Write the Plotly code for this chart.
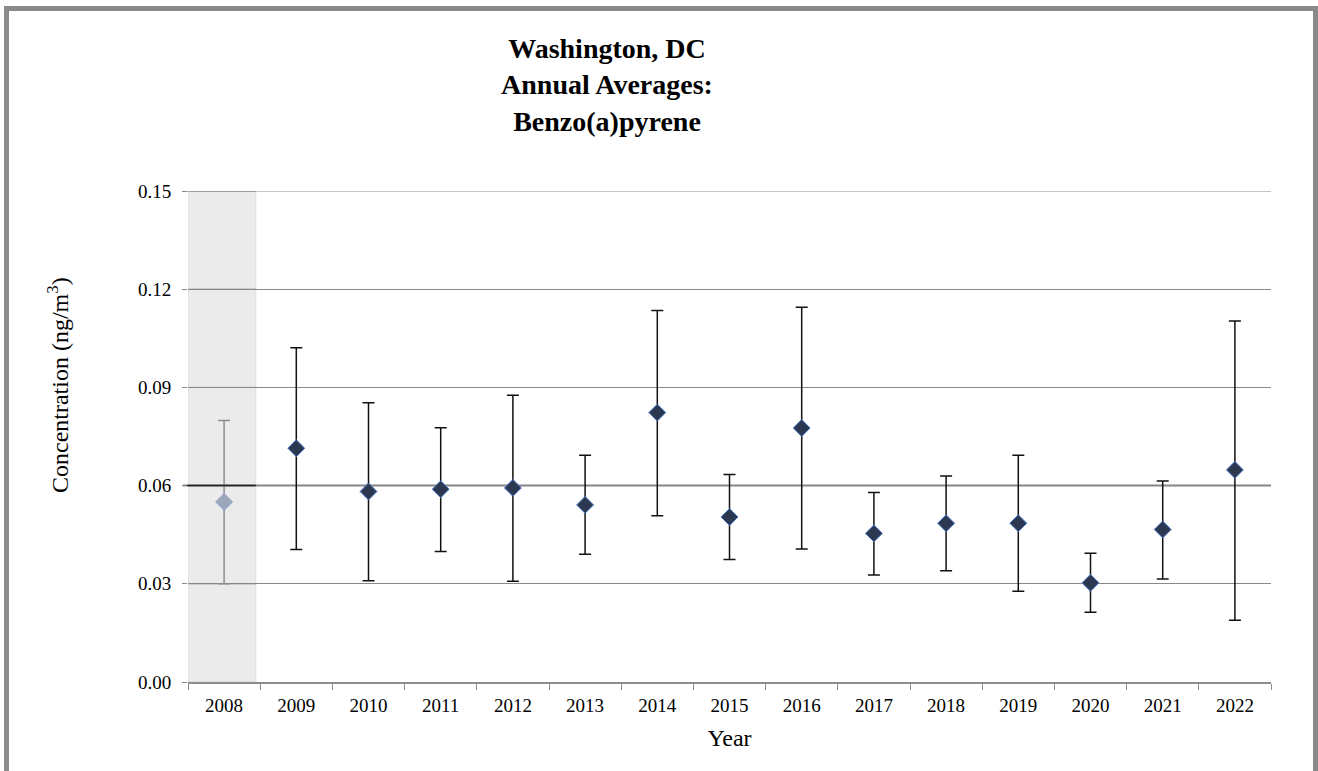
import plotly.graph_objects as go

years = ["2008", "2009", "2010", "2011", "2012", "2013", "2014", "2015",
         "2016", "2017", "2018", "2019", "2020", "2021", "2022"]
means = [0.0550, 0.0714, 0.0582, 0.0589, 0.0593, 0.0541, 0.0823, 0.0504,
         0.0776, 0.0454, 0.0485, 0.0485, 0.0303, 0.0466, 0.0648]
upper = [0.0799, 0.1021, 0.0853, 0.0777, 0.0876, 0.0693, 0.1135, 0.0634,
         0.1145, 0.0579, 0.0629, 0.0693, 0.0393, 0.0614, 0.1103]
lower = [0.0300, 0.0405, 0.0309, 0.0399, 0.0308, 0.0390, 0.0508, 0.0374,
         0.0406, 0.0327, 0.0340, 0.0277, 0.0213, 0.0315, 0.0189]
y_ticks = [0.00, 0.03, 0.06, 0.09, 0.12, 0.15]

FONT = "Liberation Serif"

err_up = [u - m for u, m in zip(upper, means)]
err_dn = [m - l for m, l in zip(means, lower)]

fig = go.Figure()

# 2008 (faded, shaded year)
fig.add_trace(go.Scatter(
    x=years[:1], y=means[:1], mode="markers",
    marker=dict(symbol="diamond", size=13, color="#a9b6c9",
                line=dict(color="#9db3dc", width=1)),
    error_y=dict(type="data", symmetric=False, array=err_up[:1],
                 arrayminus=err_dn[:1], color="#9a9a9a", thickness=1.5, width=6),
    showlegend=False, hoverinfo="skip"))

fig.add_trace(go.Scatter(
    x=years[1:], y=means[1:], mode="markers",
    marker=dict(symbol="diamond", size=13, color="#2b3850",
                line=dict(color="#4a78c8", width=1)),
    error_y=dict(type="data", symmetric=False, array=err_up[1:],
                 arrayminus=err_dn[1:], color="#111111", thickness=1.5, width=6),
    showlegend=False))

L, R, T, B = 188, 47, 191, 89
W, H = 1318, 771
pw, ph = W - L - R, H - T - B

def px_to_paper_x(px):
    return (px - L) / pw

def px_to_paper_y(py):
    return (H - B - py) / ph

SHADE_X1 = 0.44

shapes = [
    # darker 0.06 line
    dict(type="line", xref="paper", yref="y", x0=px_to_paper_x(183), x1=1, y0=0.06, y1=0.06,
         line=dict(color="#000000", width=1.5), layer="between"),
    # top gridline at 0.15
    dict(type="line", xref="paper", yref="y", x0=px_to_paper_x(183), x1=1, y0=0.15, y1=0.15,
         line=dict(color="#8a8a8a", width=1), layer="between"),
    # shaded 2008 region
    dict(type="rect", xref="x", yref="y", x0=-0.5, x1=SHADE_X1, y0=0, y1=0.15,
         fillcolor="rgba(0,0,0,0.08)", line=dict(color="rgba(200,190,160,0.35)", width=1),
         layer="above"),
]
# gridlines visible through the shaded region
for v in y_ticks[1:]:
    shapes.append(dict(type="line", xref="x", yref="y", x0=-0.5, x1=SHADE_X1, y0=v, y1=v,
                       line=dict(color="#222222" if v == 0.06 else "#8a8a8a",
                                 width=1.5 if v == 0.06 else 1),
                       layer="above"))
# outer border
shapes.append(dict(type="rect", xref="paper", yref="paper",
                   x0=px_to_paper_x(6.5), x1=px_to_paper_x(1315.5),
                   y0=px_to_paper_y(800), y1=px_to_paper_y(8.5),
                   line=dict(color="#8a8a8a", width=5), fillcolor="rgba(0,0,0,0)"))

fig.update_layout(
    width=W, height=H,
    margin=dict(l=L, r=R, t=T, b=B, pad=0),
    paper_bgcolor="white", plot_bgcolor="white",
    font=dict(family=FONT, color="black", size=19),
    title=dict(text="<b>Washington, DC<br>Annual Averages:<br>Benzo(a)pyrene</b>",
               x=607 / W, xanchor="center", xref="container",
               y=1 - 58 / H, yanchor="middle", yref="container",
               font=dict(family=FONT, size=28, color="black")),
    shapes=shapes,
    xaxis=dict(type="category", categoryorder="array", categoryarray=years,
               range=[-0.5, 14.5], showgrid=False, showline=True,
               linecolor="#8c8c8c", linewidth=1.5, ticks="outside",
               tickson="boundaries", ticklen=6, tickcolor="#8c8c8c",
               ticklabelstandoff=5,
               tickfont=dict(family=FONT, size=19),
               title=dict(text="Year", font=dict(family=FONT, size=24), standoff=15),
               zeroline=False),
    yaxis=dict(range=[0, 0.15], tickvals=y_ticks, ticktext=[f"{v:.2f}" for v in y_ticks],
               showgrid=True, gridcolor="#8a8a8a", gridwidth=1,
               ticks="outside", ticklen=5, tickcolor="#8a8a8a",
               ticklabelstandoff=7,
               showline=False, zeroline=False,
               tickfont=dict(family=FONT, size=19)),
    annotations=[dict(text="Concentration (ng/m<sup>3</sup>)", xref="paper", yref="paper",
                      x=px_to_paper_x(58), y=px_to_paper_y(385), textangle=-90,
                      showarrow=False, xanchor="center", yanchor="middle",
                      font=dict(family=FONT, size=24, color="black"))],
)

fig.write_html("out.html", config={"displayModeBar": False},
               post_script="document.body.style.margin='0px';document.body.style.overflow='hidden';")
